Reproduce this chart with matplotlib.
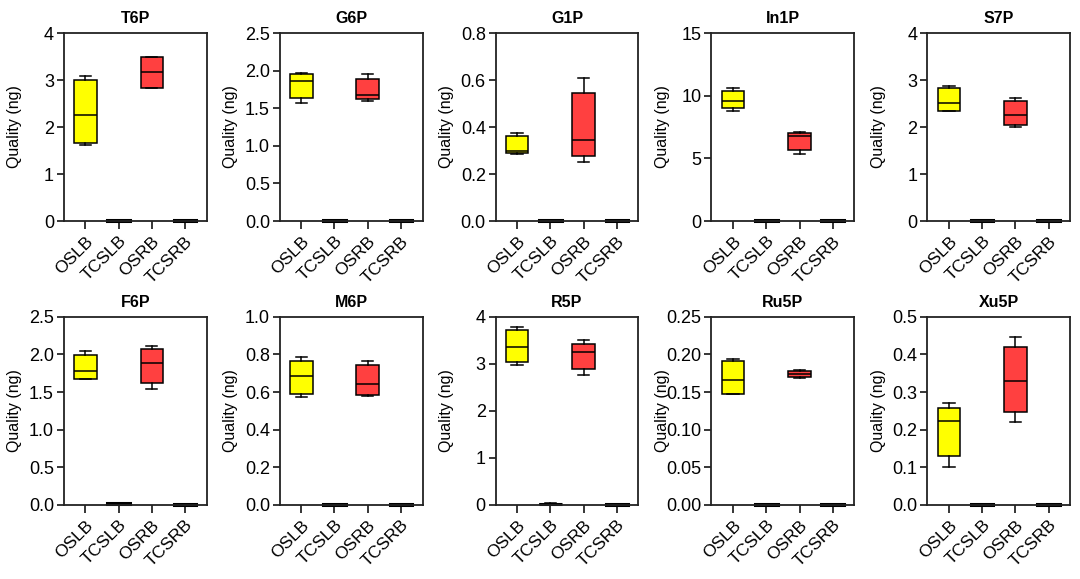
import matplotlib
matplotlib.use('Agg')
import matplotlib.pyplot as plt
from matplotlib.ticker import FormatStrFormatter

plt.rcParams['font.family'] = ['Liberation Sans', 'DejaVu Sans']

# Groups on the x axis
groups = ['OSLB', 'TCSLB', 'OSRB', 'TCSRB']
colors = ['#FFFF00', '#000000', '#FF4040', '#000000']

# Metabolites (one panel each)
metabolites = ['T6P', 'G6P', 'G1P', 'In1P', 'S7P', 'F6P', 'M6P', 'R5P', 'Ru5P', 'Xu5P']
y_max = [4, 2.5, 0.8, 15, 4, 2.5, 1.0, 4, 0.25, 0.5]
y_step = [1, 0.5, 0.2, 5, 1, 0.5, 0.2, 1, 0.05, 0.1]
y_fmt = ['%d', '%.1f', '%.1f', '%d', '%d', '%.1f', '%.1f', '%d', '%.2f', '%.1f']

# Box stats: (min, q1, median, q3, max) for OSLB, TCSLB, OSRB, TCSRB
T6P = [(1.62, 1.66, 2.26, 3.01, 3.09), (0.0, 0.005, 0.01, 0.02, 0.02),
       (2.83, 2.84, 3.17, 3.48, 3.49), (0.0, 0.005, 0.01, 0.02, 0.02)]
G6P = [(1.57, 1.63, 1.86, 1.955, 1.97), (0.0, 0.004, 0.008, 0.012, 0.012),
       (1.60, 1.62, 1.68, 1.89, 1.96), (0.0, 0.004, 0.008, 0.012, 0.012)]
G1P = [(0.285, 0.288, 0.30, 0.36, 0.374), (0.0, 0.001, 0.002, 0.004, 0.004),
       (0.25, 0.275, 0.343, 0.545, 0.61), (0.0, 0.001, 0.002, 0.004, 0.004)]
In1P = [(8.78, 9.0, 9.57, 10.37, 10.6), (0.0, 0.02, 0.04, 0.07, 0.07),
        (5.37, 5.66, 6.78, 7.05, 7.07), (0.0, 0.02, 0.04, 0.07, 0.07)]
S7P = [(2.34, 2.35, 2.51, 2.82, 2.88), (0.0, 0.005, 0.01, 0.02, 0.02),
       (2.0, 2.04, 2.26, 2.55, 2.61), (0.0, 0.005, 0.01, 0.02, 0.02)]
F6P = [(1.67, 1.68, 1.785, 1.99, 2.04), (0.005, 0.01, 0.015, 0.02, 0.025),
       (1.545, 1.625, 1.89, 2.07, 2.11), (0.0, 0.004, 0.008, 0.012, 0.012)]
M6P = [(0.572, 0.59, 0.686, 0.767, 0.787), (0.0, 0.002, 0.003, 0.005, 0.005),
       (0.58, 0.586, 0.643, 0.746, 0.767), (0.0, 0.002, 0.003, 0.005, 0.005)]
R5P = [(2.97, 3.03, 3.35, 3.72, 3.78), (0.01, 0.015, 0.02, 0.025, 0.03),
       (2.77, 2.89, 3.25, 3.43, 3.50), (0.0, 0.005, 0.01, 0.02, 0.02)]
Ru5P = [(0.1475, 0.148, 0.166, 0.191, 0.1945), (0.0, 0.0005, 0.001, 0.0015, 0.0015),
        (0.169, 0.1696, 0.174, 0.1776, 0.179), (0.0, 0.0005, 0.001, 0.0015, 0.0015)]
Xu5P = [(0.10, 0.129, 0.222, 0.2575, 0.27), (0.0, 0.001, 0.002, 0.003, 0.003),
        (0.221, 0.247, 0.329, 0.42, 0.447), (0.0, 0.001, 0.002, 0.003, 0.003)]
all_stats = [T6P, G6P, G1P, In1P, S7P, F6P, M6P, R5P, Ru5P, Xu5P]

fig, axes = plt.subplots(2, 5, figsize=(10.8, 5.79), dpi=100)
fig.subplots_adjust(left=0.059, right=0.991, top=0.943, bottom=0.128,
                    wspace=0.51, hspace=0.51)

for ax, name, stats, ym, st, fmt in zip(axes.flat, metabolites, all_stats, y_max, y_step, y_fmt):
    bstats = []
    for g, s in zip(groups, stats):
        bstats.append({'label': g, 'whislo': s[0], 'q1': s[1], 'med': s[2],
                       'q3': s[3], 'whishi': s[4], 'fliers': []})
    bp = ax.bxp(bstats, positions=[1, 2, 3, 4], widths=0.68, patch_artist=True,
                showfliers=False,
                boxprops=dict(linewidth=1.1, edgecolor='black'),
                medianprops=dict(color='black', linewidth=1.1),
                whiskerprops=dict(color='black', linewidth=1.1),
                capprops=dict(color='black', linewidth=1.1))
    for i, (patch, c) in enumerate(zip(bp['boxes'], colors)):
        patch.set_facecolor(c)
        if i in (1, 3):
            patch.set_linewidth(2.2)
    for c in bp['caps']:
        xd = c.get_xdata()
        mid = (xd[0] + xd[1]) / 2
        c.set_xdata([mid - 0.17, mid + 0.17])
    for art in bp['boxes'] + bp['medians'] + bp['whiskers'] + bp['caps']:
        art.set_clip_on(False)

    ax.set_xlim(0.35, 4.65)
    ax.set_ylim(0, ym)
    ticks = [i * st for i in range(int(round(ym / st)) + 1)]
    ax.set_yticks(ticks)
    ax.yaxis.set_major_formatter(FormatStrFormatter(fmt))
    ax.set_xticks([1, 2, 3, 4])
    ax.set_xticklabels(groups, rotation=45, ha='right', rotation_mode='anchor', fontsize=12.5)
    ax.tick_params(axis='y', labelsize=13, length=5, width=1.1, direction='out', pad=2)
    ax.tick_params(axis='x', length=6, width=1.1, direction='out', pad=3)
    for sp in ax.spines.values():
        sp.set_linewidth(1.3)
        sp.set_color('#222222')
    ax.set_title(name, fontsize=11.5, fontweight='bold', pad=7)
    ax.set_ylabel('Quality (ng)', fontsize=11.5)
    ax.yaxis.set_label_coords(-0.29, 0.5)

plt.savefig('out.png', dpi=100)
